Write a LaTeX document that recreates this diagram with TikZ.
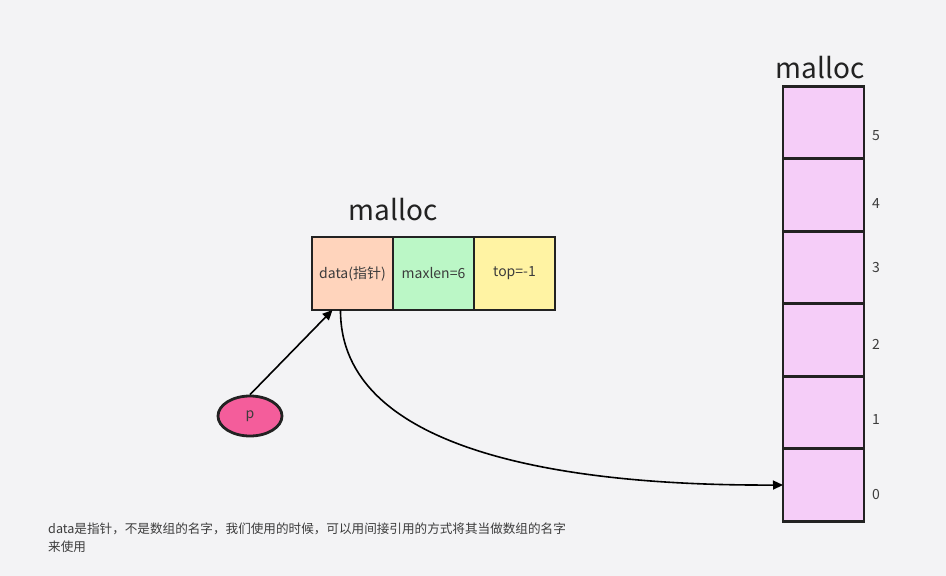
\documentclass[tikz,border=0pt]{standalone}
\usepackage{fontspec}
\setmainfont{Noto Sans CJK SC}
\usetikzlibrary{arrows.meta,shapes.geometric,calc}
\definecolor{bg}{RGB}{243,243,245}
\definecolor{peach}{RGB}{255,212,188}
\definecolor{mint}{RGB}{187,247,198}
\definecolor{lemon}{RGB}{255,243,163}
\definecolor{lilac}{RGB}{245,205,248}
\definecolor{pinkp}{RGB}{244,93,155}
\definecolor{ink}{RGB}{34,34,34}
\definecolor{txt}{RGB}{60,60,60}
\tikzset{
  cellbox/.style={draw=ink,line width=2.8pt,minimum width=81pt,minimum height=73pt,inner sep=0pt,outer sep=0pt,font=\fontsize{14}{16}\selectfont,text=txt},
  arrcell/.style={draw=ink,line width=2.8pt,fill=lilac,minimum width=81pt,minimum height=72.5pt,inner sep=0pt,outer sep=0pt},
  idx/.style={font=\fontsize{14}{16}\selectfont,text=txt,inner sep=0pt},
  title/.style={font=\fontsize{28}{32}\selectfont,text=ink,inner sep=0pt},
  conn/.style={draw=black,line width=1.6pt,-{Triangle[length=10pt,width=9pt]}},
}
\begin{document}
\begin{tikzpicture}[x=1pt,y=-1pt]
\fill[bg] (0,0) rectangle (946,576);
\useasboundingbox (0,0) rectangle (946,576);
% struct
\node[title] (t1) at (393,210) {malloc};
\node[cellbox,fill=peach] (data) at (352.5,273.5) {data(指针)};
\node[cellbox,fill=mint] (maxlen) at (433.5,273.5) {maxlen=6};
\node[cellbox,fill=lemon] (top) at (514.5,273.5) {top=-1};
% pointer p
\node[ellipse,draw=ink,line width=2.8pt,fill=pinkp,minimum width=64pt,minimum height=40pt,inner sep=0pt,font=\fontsize{14}{16}\selectfont,text=txt] (p) at (250,416) {p};
% array
\node[title] (t2) at (820,68) {malloc};
\node[arrcell] (c5) at (823.5,122.5) {};
\node[arrcell] (c4) at (823.5,195) {};
\node[arrcell] (c3) at (823.5,267.5) {};
\node[arrcell] (c2) at (823.5,340) {};
\node[arrcell] (c1) at (823.5,412.5) {};
\node[arrcell] (c0) at (823.5,485) {};
\node[idx] (i5) at (876,136) {5};
\node[idx] (i4) at (876,204) {4};
\node[idx] (i3) at (876,268) {3};
\node[idx] (i2) at (876,344) {2};
\node[idx] (i1) at (876,420) {1};
\node[idx] (i0) at (876,495) {0};
% connectors
\draw[conn] (p.north) -- ([xshift=-20pt]data.south);
\draw[conn] ([xshift=-12pt]data.south) .. controls (340,450) and (560,486) .. (c0.west);
% note
\node[anchor=north west,align=left,inner sep=0pt,font=\fontsize{12.6}{18}\selectfont,text=txt] (note) at (48,523) {data是指针，不是数组的名字，我们使用的时候，可以用间接引用的方式将其当做数组的名字\\来使用};
\end{tikzpicture}
\end{document}
